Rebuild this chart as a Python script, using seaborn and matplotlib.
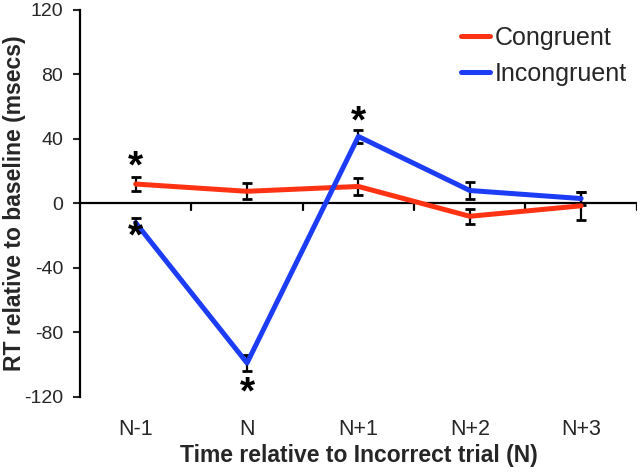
import pandas as pd
import seaborn as sns
import matplotlib.pyplot as plt

sns.set_style("white")
plt.rcParams["font.family"] = ["Liberation Sans", "DejaVu Sans"]
plt.rcParams["axes.unicode_minus"] = False

# Podatki
time_points = ["N-1", "N", "N+1", "N+2", "N+3"]
congruent = [12, 7.5, 10.5, -8, -1.5]
congruent_err = [4.5, 5, 5.5, 4.5, 8.5]
incongruent = [-12, -99, 41.5, 8, 3]
incongruent_err = [3, 5, 4, 5, 4]
# zvezdice: (indeks točke, vrednost y)
star_idx = [0, 0, 1, 2]
star_y = [22, -21, -118, 50]

df = pd.DataFrame({
    "time": list(range(len(time_points))) * 2,
    "rt": congruent + incongruent,
    "cond": ["Congruent"] * len(time_points) + ["Incongruent"] * len(time_points),
})

fig = plt.figure(figsize=(6.4, 4.73), dpi=100)
ax = fig.add_axes([0.125, 0.161, 0.87, 0.818])

# Napake
x = list(range(len(time_points)))
ax.errorbar(x, congruent, yerr=congruent_err, fmt="none", ecolor="black",
            elinewidth=1.6, capsize=3.5, capthick=2, zorder=2)
ax.errorbar(x, incongruent, yerr=incongruent_err, fmt="none", ecolor="black",
            elinewidth=1.6, capsize=3.5, capthick=2, zorder=2)

# Črte
sns.lineplot(data=df, x="time", y="rt", hue="cond",
             palette={"Congruent": "#ff3214", "Incongruent": "#1c3cf5"},
             linewidth=3.6, ax=ax, zorder=3)

# Zvezdice
for i, yv in zip(star_idx, star_y):
    ax.text(i, yv, "*", ha="center", va="center", fontsize=28,
            fontweight="bold", color="black")

# Osi
ax.set_xlim(-0.5, len(time_points) - 0.5)
ax.set_ylim(-120, 120)
ax.set_yticks(range(-120, 121, 40))
ax.set_xticks(x)
ax.set_xticklabels(time_points, fontsize=15.5)
ax.tick_params(axis="y", labelsize=14, direction="out", length=5, width=1.5, left=True, pad=7)
ax.tick_params(axis="x", length=0, pad=16)

for s in ["top", "right", "bottom"]:
    ax.spines[s].set_visible(False)
ax.spines["left"].set_linewidth(1.6)
ax.spines["left"].set_color("black")

# Ničelna črta z oznakami med kategorijami
ax.axhline(0, color="black", linewidth=1.6, zorder=1)
for b in [i + 0.5 for i in x]:
    ax.plot([b, b], [0, -4], color="black", linewidth=1.6, zorder=1)

ax.set_xlabel("Time relative to Incorrect trial (N)", fontsize=16.5, fontweight="bold", labelpad=3)
ax.set_ylabel("RT relative to baseline (msecs)", fontsize=16.5, fontweight="bold")
ax.yaxis.set_label_coords(-0.097, 0.5)

ax.legend(loc="upper right", frameon=False, fontsize=18, handlelength=1.15,
          bbox_to_anchor=(1.0, 0.985), borderaxespad=0.0, labelspacing=0.5,
          handletextpad=0.2)

fig.savefig("out.png", dpi=100)
